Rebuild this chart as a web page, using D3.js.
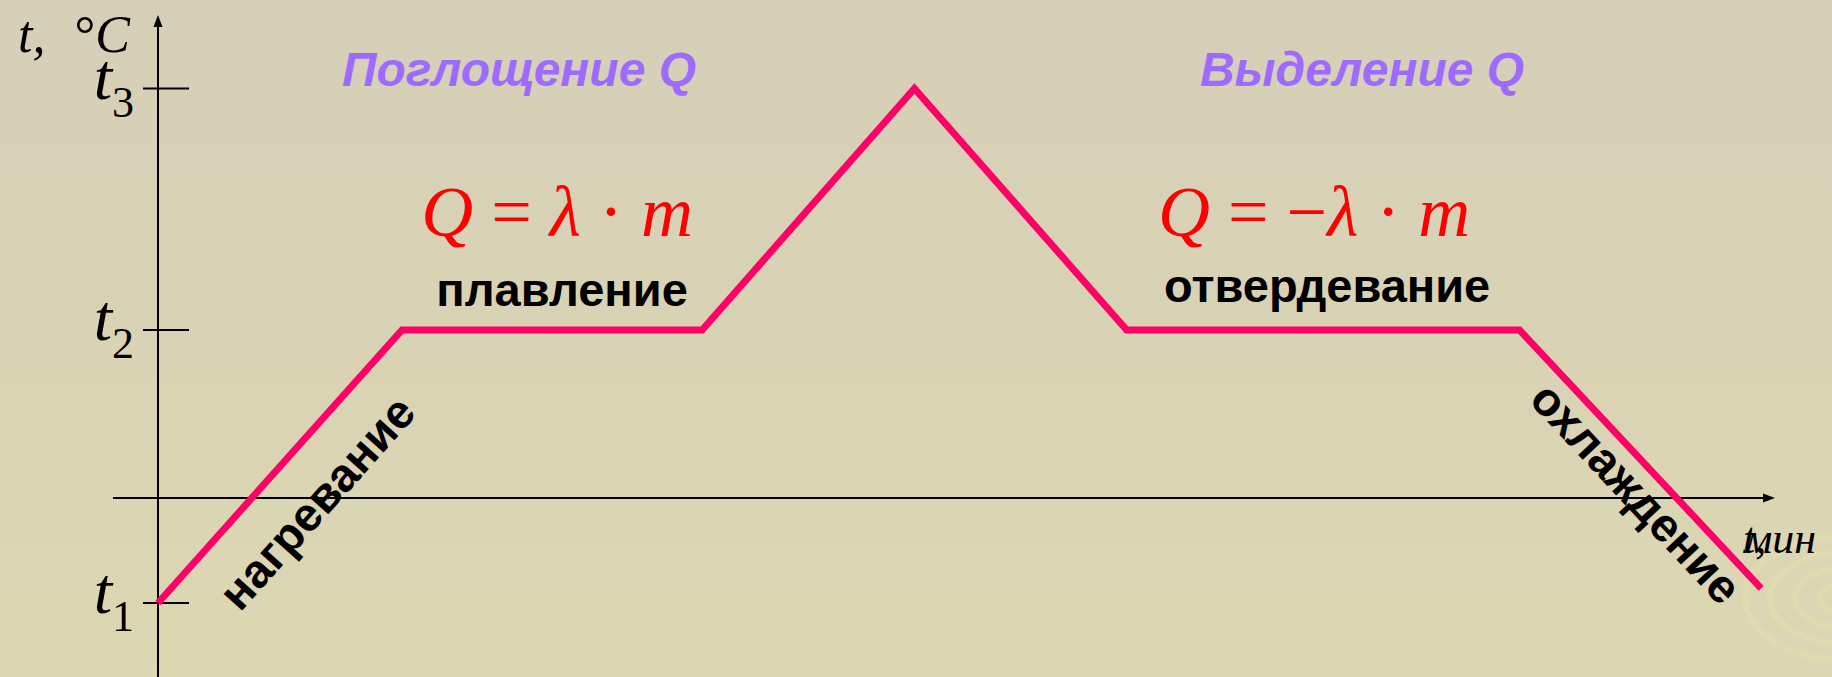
<!DOCTYPE html>
<html>
<head>
<meta charset="utf-8">
<script src="https://cdn.jsdelivr.net/npm/d3@7"></script>
<style>
  body { margin: 0; overflow: hidden; }
  svg { display: block; }
  .lbl { font-family: "Liberation Sans", Arial, sans-serif; font-weight: bold; }
  .math { font-family: "Liberation Serif", "Times New Roman", serif; }
</style>
</head>
<body>
<div id="chart"></div>
<script>

// time (min) and temperature of each break point of the curve
var times = [0, 10, 22.3, 31, 39.7, 55.8, 65.7];
var temps = [-10, 16, 16, 39, 16, 16, -8.6];

// marked temperatures t1, t2, t3
var tickTemps = [-10, 16, 39];
var tickSubs = ["1", "2", "3"];

var heatTitles = ["Поглощение Q", "Выделение Q"];
var phaseNames = ["нагревание", "плавление", "отвердевание", "охлаждение"];


var width = 1832, height = 677;

var svg = d3.select("#chart")
    .append("svg")
    .attr("width", width)
    .attr("height", height);

var defs = svg.append("defs");

var bg = defs.append("linearGradient")
    .attr("id", "bg")
    .attr("x1", 0).attr("y1", 0).attr("x2", 0).attr("y2", 1);
bg.append("stop").attr("offset", "0%").attr("stop-color", "#d6cfb8");
bg.append("stop").attr("offset", "100%").attr("stop-color", "#dcd7b2");

svg.append("rect")
    .attr("width", width)
    .attr("height", height)
    .attr("fill", "url(#bg)");

// faint ripple decoration in the corner
var ripple = svg.append("g").attr("opacity", 0.25);
[[25, 15], [50, 30], [75, 46], [100, 62]].forEach(function(r) {
    ripple.append("ellipse")
        .attr("cx", 1845).attr("cy", 598)
        .attr("rx", r[0]).attr("ry", r[1])
        .attr("fill", "none")
        .attr("stroke", "#eeeaa8")
        .attr("stroke-width", 7);
});

// scales
var x = d3.scaleLinear()
    .domain([0, 66.27])
    .range([158, 1775]);

var y = d3.scaleLinear()
    .domain([-17, 46])
    .range([676.5, 15]);

var axisX0 = x.invert(113);

// axes
function arrowHead(g, pts) {
    g.append("path")
        .attr("d", "M" + pts.join("L") + "Z")
        .attr("fill", "#000");
}

var axes = svg.append("g").attr("stroke", "#000").attr("stroke-width", 2);

axes.append("line")
    .attr("x1", x(0)).attr("x2", x(0))
    .attr("y1", height).attr("y2", y(46) + 10);
arrowHead(svg, [[x(0), y(46)], [x(0) - 4.5, y(46) + 12], [x(0) + 4.5, y(46) + 12]]);

axes.append("line")
    .attr("x1", x(axisX0)).attr("x2", x(66.27) - 10)
    .attr("y1", y(0)).attr("y2", y(0));
arrowHead(svg, [[x(66.27), y(0)], [x(66.27) - 12, y(0) - 4.5], [x(66.27) - 12, y(0) + 4.5]]);

axes.selectAll(".tick")
    .data(tickTemps)
    .enter()
    .append("line")
    .attr("x1", x(0) - 15).attr("x2", x(0) + 31)
    .attr("y1", function(d) { return y(d); })
    .attr("y2", function(d) { return y(d); });

// t1 t2 t3 labels
var tl = svg.selectAll(".tlabel")
    .data(tickTemps)
    .enter()
    .append("text")
    .attr("class", "math")
    .attr("font-style", "italic")
    .attr("text-anchor", "end")
    .attr("x", x(0) - 24)
    .attr("y", function(d) { return y(d) + 10; });

tl.append("tspan")
    .attr("font-size", 66)
    .text("t");
tl.append("tspan")
    .attr("font-size", 44)
    .attr("font-style", "normal")
    .attr("dy", 18)
    .text(function(d, i) { return tickSubs[i]; });

// axis titles
var yt = svg.append("text")
    .attr("class", "math")
    .attr("font-size", 52)
    .attr("font-style", "italic")
    .attr("x", 18)
    .attr("y", 52);
yt.append("tspan").text("t,");
yt.append("tspan").attr("dx", 29).attr("font-style", "normal").text("°");
yt.append("tspan").text("C");

var xt = svg.append("text")
    .attr("class", "math")
    .attr("font-size", 44)
    .attr("font-style", "italic")
    .attr("x", 1743).attr("y", 553);
xt.append("tspan").text("t,");
xt.append("tspan").attr("dx", -22).text("мин");

// the curve
var line = d3.line()
    .x(function(d) { return x(d[0]); })
    .y(function(d) { return y(d[1]); });

svg.append("path")
    .datum(d3.zip(times, temps))
    .attr("d", line)
    .attr("fill", "none")
    .attr("stroke", "#ff0066")
    .attr("stroke-width", 7)
    .attr("stroke-linejoin", "miter");

// heat titles
svg.selectAll(".heat")
    .data(heatTitles)
    .enter()
    .append("text")
    .attr("class", "lbl")
    .attr("font-style", "italic")
    .attr("font-size", 48)
    .attr("fill", "#9f6bff")
    .attr("text-anchor", "middle")
    .attr("x", function(d, i) { return i == 0 ? 519 : 1362; })
    .attr("y", 86)
    .text(function(d) { return d; });

// formulas
var formulas = [
    {cx: (x(times[1]) + x(times[2])) / 2 + 5, neg: false},
    {cx: (x(times[4]) + x(times[5])) / 2 - 9, neg: true}
];

var f = svg.selectAll(".formula")
    .data(formulas)
    .enter()
    .append("text")
    .attr("class", "math")
    .attr("font-size", 72)
    .attr("fill", "#ff0000")
    .attr("text-anchor", "middle")
    .attr("x", function(d) { return d.cx; })
    .attr("y", 236);

f.append("tspan").attr("font-style", "italic").text("Q");
f.append("tspan").text(function(d) { return d.neg ? " = −" : " = "; });
f.append("tspan").attr("font-style", "italic").text("λ");
f.append("tspan").text(" · ");
f.append("tspan").attr("font-style", "italic").text("m");

// phase names on plateaus
svg.append("text")
    .attr("class", "lbl")
    .attr("font-size", 47)
    .attr("text-anchor", "middle")
    .attr("x", (x(times[1]) + x(times[2])) / 2 + 10)
    .attr("y", 306)
    .text(phaseNames[1]);

svg.append("text")
    .attr("class", "lbl")
    .attr("font-size", 47)
    .attr("text-anchor", "middle")
    .attr("x", (x(times[4]) + x(times[5])) / 2 + 4)
    .attr("y", 302)
    .text(phaseNames[2]);

// phase names along the slopes
function slopeLabel(i0, name, off) {
    var x0 = x(times[i0]), y0 = y(temps[i0]);
    var x1 = x(times[i0 + 1]), y1 = y(temps[i0 + 1]);
    var ang = Math.atan2(y1 - y0, x1 - x0) * 180 / Math.PI;
    if (ang < -90 || ang > 90) ang += 180;
    svg.append("text")
        .attr("class", "lbl")
        .attr("font-size", 47)
        .attr("text-anchor", "middle")
        .attr("transform", "translate(" + ((x0 + x1) / 2 + off[0]) + "," + ((y0 + y1) / 2 + off[1]) + ") rotate(" + ang + ")")
        .text(name);
}

slopeLabel(0, phaseNames[0], [49, 47]);
slopeLabel(5, phaseNames[3], [-16, 45]);

</script>
</body>
</html>
